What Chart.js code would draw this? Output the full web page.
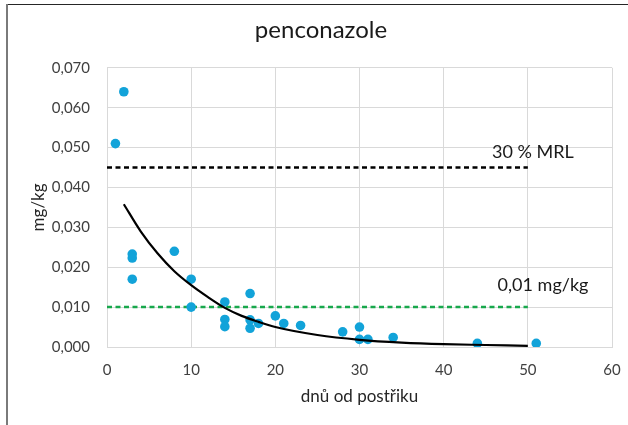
<!DOCTYPE html>
<html>
<head>
<meta charset="utf-8">
<script src="https://cdn.jsdelivr.net/npm/chart.js@4.4.0/dist/chart.umd.min.js"></script>
<style>
  body { margin: 0; background: #fff; }
  #wrap { position: relative; width: 628px; height: 425px; }
  #frameTop { position: absolute; left: 6px; top: 4px; right: 0; height: 1px; background: #262626; }
  #frameLeft { position: absolute; left: 6px; top: 4px; bottom: 0; width: 2px; background: #7a7a7a; }
</style>
</head>
<body>
<div id="wrap">
  <canvas id="graf" width="628" height="425"></canvas>
  <div id="frameTop"></div>
  <div id="frameLeft"></div>
</div>
<script>
// dny od postriku a namerene rezidua (mg/kg)
const dny = [1, 2, 3, 3, 3, 8, 10, 10, 14, 14, 14, 17, 17, 17, 18, 20, 21, 23, 28, 30, 30, 31, 34, 44, 51];
const rezidua = [0.051, 0.064, 0.0233, 0.0223, 0.017, 0.024, 0.017, 0.010, 0.0113, 0.0069, 0.0051,
  0.0134, 0.0068, 0.0047, 0.0059, 0.0078, 0.0059, 0.0054, 0.0038, 0.0050, 0.0019, 0.0019, 0.0024, 0.0009, 0.0009];

// spojnice trendu
const trendX = [2, 4, 6, 8, 10, 12, 14, 16, 18, 20, 25, 30, 35, 40, 45, 50];
const trendY = [0.0358, 0.0290, 0.0235, 0.0190, 0.0155, 0.0125, 0.0098, 0.0078, 0.0063, 0.0050,
  0.0030, 0.0018, 0.0011, 0.0007, 0.0005, 0.0003];

// limity
const limitX = [0, 50];
const mrl30 = 0.045;
const limitLoq = 0.010;
const popisky = ["30 % MRL", "0,01 mg/kg"];

const xTicks = [0, 10, 20, 30, 40, 50, 60];
const yTicks = [0, 0.01, 0.02, 0.03, 0.04, 0.05, 0.06, 0.07];

const font = "Lato";
const toPts = (xs, ys) => xs.map((x, i) => ({ x: x, y: ys[i] }));

// popisky limitu
const popiskyPlugin = {
  id: 'popisky',
  afterDatasetsDraw(chart) {
    const ctx = chart.ctx;
    const xs = chart.scales.x, ys = chart.scales.y;
    ctx.save();
    ctx.font = "18px " + font;
    ctx.fillStyle = "#1a1a1a";
    ctx.textAlign = "center";
    ctx.textBaseline = "middle";
    ctx.fillText(popisky[0], xs.getPixelForValue(50.6), ys.getPixelForValue(mrl30) - 15);
    ctx.fillText(popisky[1], xs.getPixelForValue(51.8), ys.getPixelForValue(limitLoq) - 22);
    ctx.restore();
  }
};

new Chart(document.getElementById("graf").getContext("2d"), {
  type: "scatter",
  data: {
    datasets: [
      {
        label: "trend",
        data: toPts(trendX, trendY),
        showLine: true,
        borderColor: "#000",
        borderWidth: 2.2,
        pointRadius: 0,
        tension: 0.4,
        cubicInterpolationMode: "monotone",
        order: 0
      },
      {
        label: "penconazole",
        data: toPts(dny, rezidua),
        backgroundColor: "#12a3d9",
        borderWidth: 0,
        pointRadius: 4.8,
        order: 1
      },
      {
        label: "30 % MRL",
        data: toPts(limitX, [mrl30, mrl30]),
        showLine: true,
        borderColor: "#000",
        borderWidth: 2.5,
        borderDash: [5, 3.5],
        pointRadius: 0,
        order: 2
      },
      {
        label: "0,01 mg/kg",
        data: toPts(limitX, [limitLoq, limitLoq]),
        showLine: true,
        borderColor: "#18a84c",
        borderWidth: 2.5,
        borderDash: [5, 3.5],
        pointRadius: 0,
        order: 2
      }
    ]
  },
  options: {
    responsive: false,
    animation: false,
    layout: { padding: { left: 30, right: 16, top: 0, bottom: 0 } },
    plugins: {
      legend: { display: false },
      tooltip: { enabled: false },
      title: {
        display: true,
        text: "penconazole",
        color: "#1a1a1a",
        font: { family: font, size: 24, weight: "normal" },
        padding: { top: 16, bottom: 23 }
      }
    },
    scales: {
      x: {
        type: "linear",
        min: 0,
        max: 60,
        afterBuildTicks: s => { s.ticks = xTicks.map(v => ({ value: v })); },
        afterFit: s => { s.height = 78; s.paddingRight = 0; s.paddingLeft = 0; },
        grid: { color: "#d9d9d9", drawTicks: false },
        border: { color: "#d9d9d9" },
        ticks: { color: "#404040", padding: 14, font: { family: font, size: 15 } },
        title: {
          display: true,
          text: "dnů od postřiku",
          color: "#262626",
          font: { family: font, size: 17 },
          padding: 18
        }
      },
      y: {
        min: 0,
        max: 0.07,
        afterBuildTicks: s => { s.ticks = yTicks.map(v => ({ value: v })); },
        afterFit: s => { s.width = 77; },
        grid: { color: "#d9d9d9", drawTicks: false },
        border: { color: "#d9d9d9" },
        ticks: {
          color: "#404040",
          padding: 17,
          font: { family: font, size: 15 },
          callback: v => v.toFixed(3).replace(".", ",")
        },
        title: {
          display: true,
          text: "mg/kg",
          color: "#262626",
          font: { family: font, size: 17 },
          padding: -2
        }
      }
    }
  },
  plugins: [popiskyPlugin]
});
</script>
</body>
</html>
